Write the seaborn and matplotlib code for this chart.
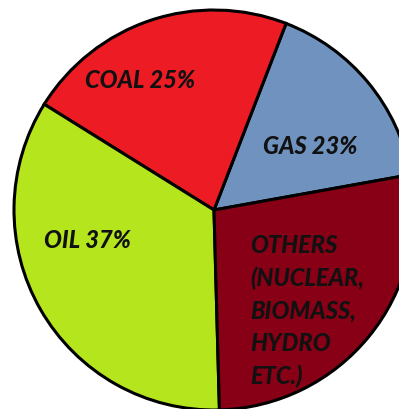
"""
能源结构饼图 (COAL / GAS / OIL / OTHERS)
"""

import matplotlib
matplotlib.use('Agg')
import matplotlib.pyplot as plt
import seaborn as sns

# 扇区顺序：从右侧起逆时针
sectors = ['GAS', 'COAL', 'OIL', 'OTHERS']
labels = ['GAS 23%', 'COAL 25%', 'OIL 37%', 'OTHERS\n(NUCLEAR,\nBIOMASS,\nHYDRO\nETC.)']
# 图中实际画出的扇区大小（按角度量得）
shares = [16.3, 22.0, 34.3, 27.4]
colors = ['#7092BE', '#ED1C24', '#B5E61D', '#880015']

sns.set_style('white')
plt.rcParams['font.family'] = ['Lato', 'DejaVu Sans']

W, H = 399, 410
fig = plt.figure(figsize=(W / 100, H / 100), dpi=100)
ax = fig.add_axes([0, 0, 1, 1])

# 像素坐标（y 向上）
cx, cy, r = 214, H - 211, 200
ax.pie(shares, colors=colors, startangle=10.2, counterclock=True,
       center=(cx, cy), radius=r,
       wedgeprops=dict(edgecolor='black', linewidth=2.2))

# 标签位置（像素，左上为原点）
label_pos = {
    'GAS': (310, 146, 'center'),
    'COAL': (140, 80, 'center'),
    'OIL': (87, 241, 'center'),
    'OTHERS': (250, 311, 'left'),
}
for name, text in zip(sectors, labels):
    x, y, ha = label_pos[name]
    ax.text(x, H - y, text, ha=ha, va='center', fontsize=17,
            fontweight='black', fontstyle='italic', color='#111111',
            linespacing=1.5)

ax.set_xlim(0, W)
ax.set_ylim(0, H)
ax.set_aspect('auto')
ax.axis('off')

fig.savefig('out.png', dpi=100, facecolor='white')
